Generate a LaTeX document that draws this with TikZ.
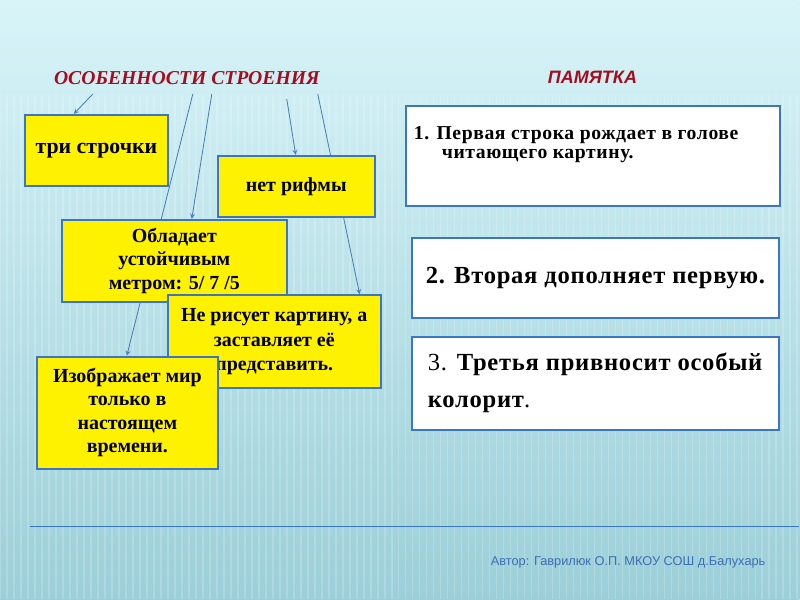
\documentclass[tikz,border=0pt]{standalone}
\usepackage{fontspec}
\setmainfont{Liberation Serif}
\newfontfamily\sansfont{Liberation Sans}
\newfontfamily\memofont[LetterSpace=3]{Liberation Serif}
\usetikzlibrary{calc}

\definecolor{bgtop}{RGB}{216,244,248}
\definecolor{bgbot}{RGB}{156,207,216}
\definecolor{boxblue}{RGB}{58,118,196}
\definecolor{linkblue}{RGB}{74,126,187}
\definecolor{titlered}{RGB}{165,12,32}
\definecolor{authblue}{RGB}{62,110,180}

\newlength{\pxu}\setlength{\pxu}{0.025cm}
\pgfdeclarelayer{bg}
\pgfdeclarelayer{links}
\pgfsetlayers{bg,links,main}

\begin{document}
\begin{tikzpicture}[
    x=0.025cm, y=-0.025cm,
    ybox/.style={draw=boxblue, line width=1.5pt, fill=yellow, align=center, inner sep=0pt,
                 font=\bfseries\fontsize{14.2}{16.7}\selectfont},
    wbox/.style={draw=boxblue, line width=1.5pt, fill=white, inner sep=0pt},
    head/.style={text=titlered, font=\bfseries\itshape\fontsize{14}{16}\selectfont},
    link/.style={draw=linkblue, line width=0.6pt, ->, >=stealth},
]

% Background
\begin{pgfonlayer}{bg}
\useasboundingbox[top color=bgtop, bottom color=bgbot] (0,0) rectangle (800,600);
\fill[top color=bgtop, bottom color=bgbot] (0,0) rectangle (800,600);
\foreach \x in {0,7,...,800}
  \draw[white, opacity=0.18, line width=1.2pt] (\x,95) -- (\x,600);
\end{pgfonlayer}

% Left: features (boxes overlap, later ones on top)
\node[head] (title) at (187,78) {ОСОБЕННОСТИ СТРОЕНИЯ};

\node[ybox, minimum width=143*\pxu, minimum height=71*\pxu,
      font=\bfseries\fontsize{15.5}{18}\selectfont] (tri) at (96.5,150.5) {три строчки};
\node[ybox, minimum width=157*\pxu, minimum height=61*\pxu] (net) at (296.5,186.5) {нет рифмы};
\node[ybox, minimum width=225*\pxu, minimum height=82*\pxu] (obl) at (174.5,261)
  {Обладает\\устойчивым\\метром: 5/ 7 /5};
\node[ybox, minimum width=213*\pxu, minimum height=93*\pxu,
      font=\bfseries\fontsize{14.2}{17.7}\selectfont] (ris) at (274.5,342)
  {Не рисует картину, а\\заставляет её\\представить.};
\node[ybox, minimum width=181*\pxu, minimum height=112*\pxu] (izo) at (127.5,413)
  {Изображает мир\\только в\\настоящем\\времени.};

% Right: memo
\node[head, font=\sansfont\bfseries\itshape\fontsize{12.8}{14}\selectfont] (pam) at (593,77) {ПАМЯТКА};

\node[wbox, minimum width=375*\pxu, minimum height=100*\pxu] (r1) at (593.5,156) {};
\node[anchor=north west, align=left, inner sep=0pt,
      font=\memofont\bfseries\fontsize{14}{13.5}\selectfont] (r1txt) at ($(r1.north west)+(9,21)$)
  {1. Первая строка рождает в голове\\\hspace*{28\pxu}читающего картину.};

\node[wbox, minimum width=368*\pxu, minimum height=80*\pxu,
      font=\memofont\bfseries\fontsize{17.5}{20}\selectfont] (r2) at (596,278) {2. Вторая дополняет первую.};

\node[wbox, minimum width=368*\pxu, minimum height=93*\pxu, align=left,
      font=\memofont\fontsize{17.5}{26.5}\selectfont] (r3) at (596,383.5)
  {3. \textbf{Третья привносит особый}\\\textbf{колорит}.};

% Footer
\draw[boxblue, line width=1pt] (30,527) -- (800,527);
\node[anchor=east, text=authblue, font=\sansfont\fontsize{9.1}{11}\selectfont] (auth) at (771,563)
  {Автор: Гаврилюк О.П. МКОУ СОШ д.Балухарь};

% Links from the heading (behind the boxes)
\begin{pgfonlayer}{links}
\coordinate (s1) at (93,94);
\coordinate (s2) at (193,94);
\coordinate (s3) at (212,94);
\coordinate (s4) at (287,99);
\coordinate (s5) at (318,94);
\draw[link] (s1) -- ($(tri.north west)+(50,0)$);
\draw[link] (s2) -- ($(izo.north west)+(91,0)$);
\draw[link] (s3) -- ($(obl.north west)+(131,0)$);
\draw[link] (s4) -- ($(net.north west)+(79,0)$);
\draw[link] (s5) -- ($(ris.north west)+(193,0)$);
\end{pgfonlayer}

\end{tikzpicture}
\end{document}
